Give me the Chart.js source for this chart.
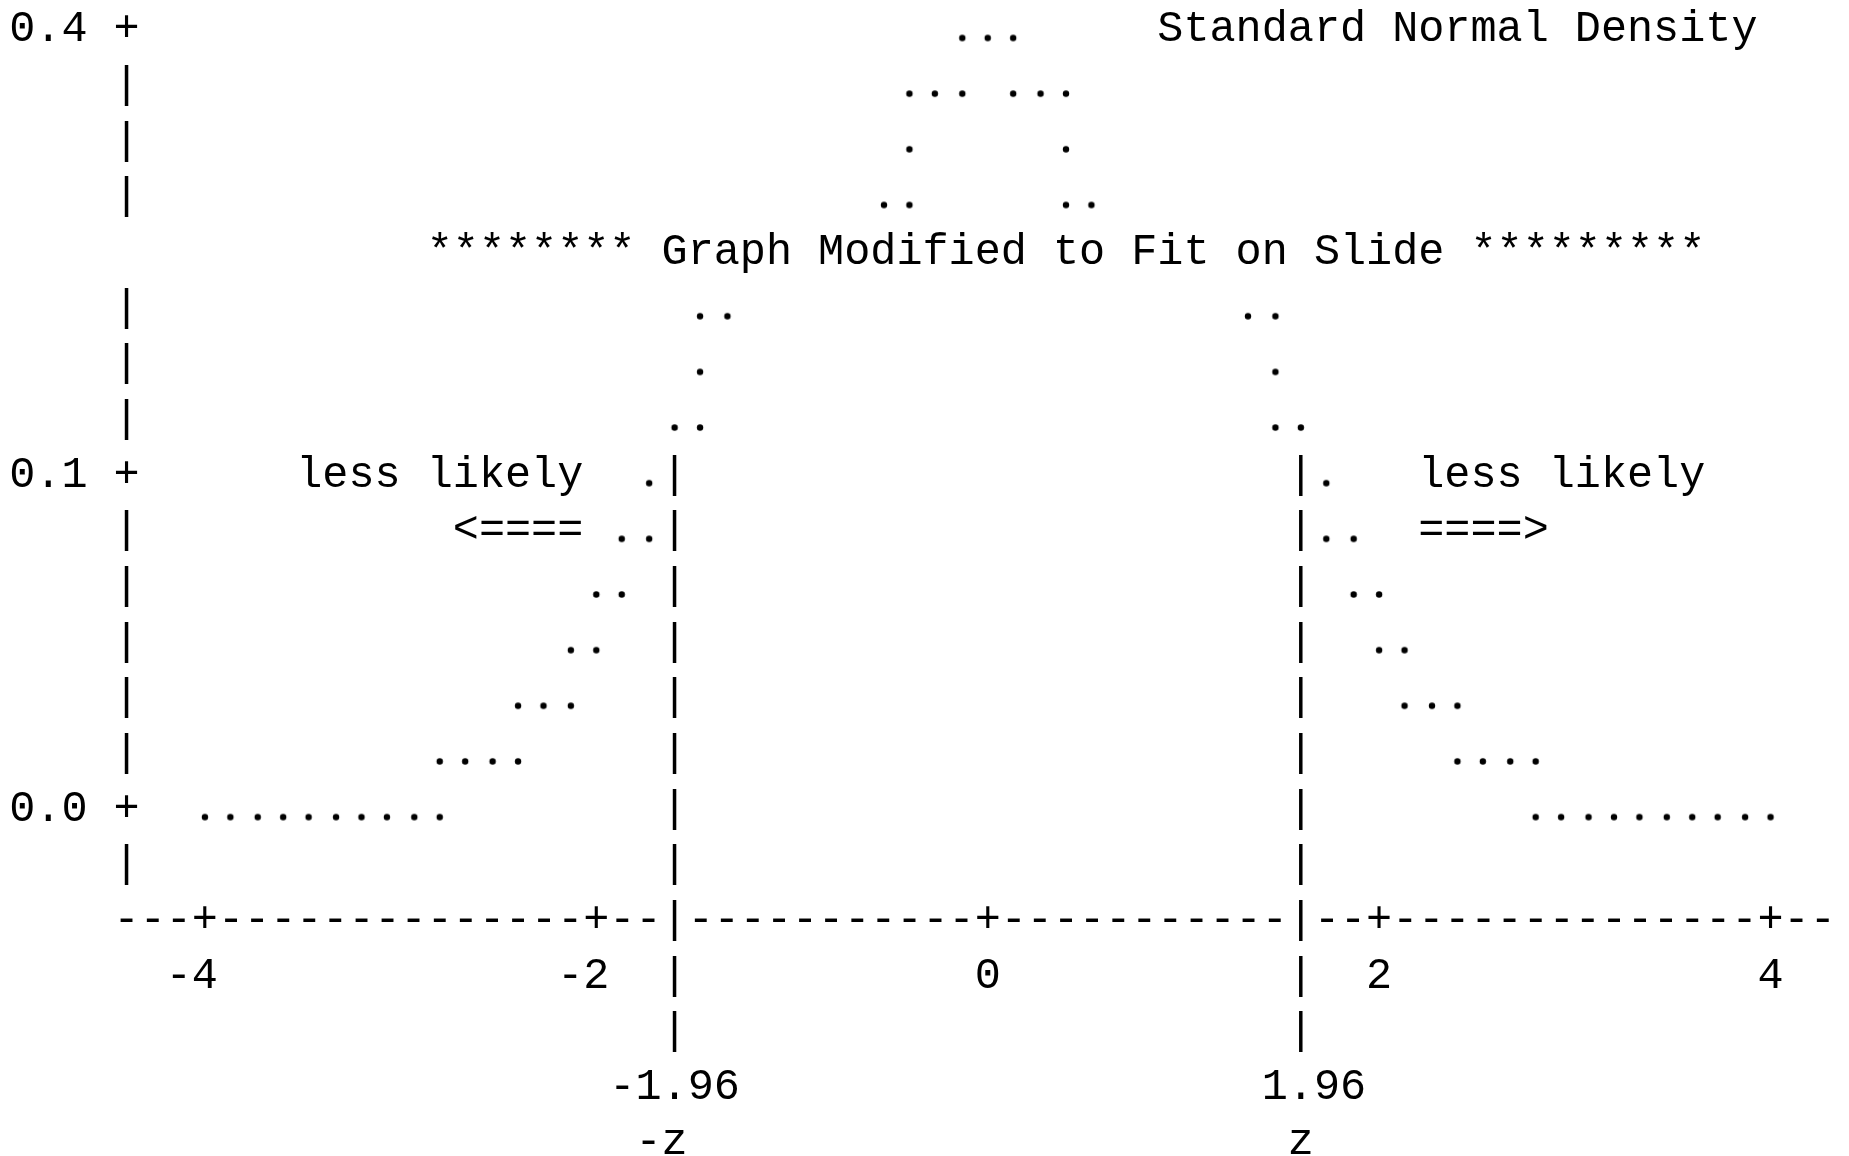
<!DOCTYPE html>
<html>
<head>
<meta charset="utf-8">
<title>Standard Normal Density</title>
<script src="https://cdn.jsdelivr.net/npm/chart.js@4.4.1/dist/chart.umd.min.js"></script>
<style>
  html, body { margin: 0; padding: 0; background: #fff; }
  #wrap { width: 1849px; height: 1156px; position: relative; }
</style>
</head>
<body>
<div id="wrap"><canvas id="chart"></canvas></div>
<script>
// x axis ticks (z units)
const xTicks = [-4, -2, 0, 2, 4];
const xTickLabels = ['-4', '-2', '0', '2', '4'];

// y axis: text line of the plot and the density printed on it
const yTickRows = [0, 8, 14];
const yTickLabels = ['0.4', '0.1', '0.0'];

// critical values, at the place the plot drew them
const critZ = [-1.6, 1.6];
const critLabels = ['-1.96', '1.96'];
const critNames = ['-z', 'z'];

// dots of the density curve: one list of z positions per text line
const curveRows = [0, 1, 2, 3, 5, 6, 7, 8, 9, 10, 11, 12, 13, 14];
const curveZ = [
  [-0.13, 0, 0.13],
  [-0.4, -0.27, -0.13, 0.13, 0.27, 0.4],
  [-0.4, 0.4],
  [-0.53, -0.4, 0.4, 0.53],
  [-1.47, -1.33, 1.33, 1.47],
  [-1.47, 1.47],
  [-1.6, -1.47, 1.47, 1.6],
  [-1.73, 1.73],
  [-1.87, -1.73, 1.73, 1.87],
  [-2.0, -1.87, 1.87, 2.0],
  [-2.13, -2.0, 2.0, 2.13],
  [-2.4, -2.27, -2.13, 2.13, 2.27, 2.4],
  [-2.8, -2.67, -2.53, -2.4, 2.4, 2.53, 2.67, 2.8],
  [-4.0, -3.87, -3.73, -3.6, -3.47, -3.33, -3.2, -3.07, -2.93, -2.8,
   2.8, 2.93, 3.07, 3.2, 3.33, 3.47, 3.6, 3.73, 3.87, 4.0]
];

// text grid: one character = 2/15 of a z unit, one line = 1 row
const STEP = 2 / 15;
const FONT = '43.5px "Liberation Mono", "DejaVu Sans Mono", monospace';
const BASE = 14;     // baseline below the row centre
const AXIS_Z = -4.4; // column of the y axis
const AXIS_END = 4.27;

// the "." used for the curve
const dot = document.createElement('canvas');
dot.width = 14;
dot.height = 44;
(function () {
  const c = dot.getContext('2d');
  c.fillStyle = '#000';
  c.beginPath();
  c.arc(7, 22 + BASE - 3.5, 3.2, 0, Math.PI * 2);
  c.fill();
})();

const points = [];
curveRows.forEach((r, i) => {
  curveZ[i].forEach(z => points.push({ x: z, y: r }));
});

const asciiPlot = {
  id: 'asciiPlot',
  afterDatasetsDraw(chart) {
    const { ctx, scales: { x, y } } = chart;
    const cw = x.getPixelForValue(STEP) - x.getPixelForValue(0);

    ctx.save();
    ctx.font = FONT;
    ctx.fillStyle = '#000';
    ctx.textAlign = 'center';
    ctx.textBaseline = 'alphabetic';

    const put = (str, z, row) => {
      const px = x.getPixelForValue(z);
      const py = y.getPixelForValue(row) + BASE;
      for (let i = 0; i < str.length; i++) {
        if (str[i] !== ' ') ctx.fillText(str[i], px + i * cw, py);
      }
    };

    // y axis
    for (let r = 0; r <= 15; r++) {
      if (r === 4) continue; // the note line covers it
      put(yTickRows.includes(r) ? '+' : '|', AXIS_Z, r);
    }
    yTickRows.forEach((r, i) => put(yTickLabels[i], AXIS_Z - 4 * STEP, r));

    // x axis line
    const n = Math.round((AXIS_END - AXIS_Z) / STEP);
    for (let k = 0; k <= n; k++) {
      const z = AXIS_Z + k * STEP;
      let ch = '-';
      if (xTicks.some(t => Math.abs(t - z) < STEP / 2)) ch = '+';
      if (critZ.some(c => Math.abs(c - z) < STEP / 2)) ch = '|';
      put(ch, z, 16);
    }
    xTicks.forEach((t, i) => {
      const lab = xTickLabels[i];
      put(lab, t - (lab.length - 1) * STEP, 17);
    });

    // critical value lines and labels
    critZ.forEach((c, i) => {
      for (let r = 8; r <= 18; r++) {
        if (r !== 16) put('|', c, r);
      }
      const lab = critLabels[i];
      put(lab, c - lab.indexOf('.') * STEP, 19);
      const nm = critNames[i];
      put(nm, c - (nm.length - 1) * STEP, 20);
    });

    // notes
    put('Standard Normal Density', 7 * STEP, 0);
    put('******** Graph Modified to Fit on Slide *********', -21 * STEP, 4);
    put('less likely', -26 * STEP, 8);
    put('<====', -20 * STEP, 9);
    put('less likely', 17 * STEP, 8);
    put('====>', 17 * STEP, 9);

    ctx.restore();
  }
};

new Chart(document.getElementById('chart'), {
  type: 'scatter',
  data: {
    datasets: [{
      label: 'Standard Normal Density',
      data: points,
      pointStyle: dot,
      pointRadius: 3,
      clip: false
    }]
  },
  options: {
    responsive: true,
    maintainAspectRatio: false,
    animation: false,
    layout: { padding: 0, autoPadding: false },
    plugins: {
      legend: { display: false },
      tooltip: { enabled: false }
    },
    scales: {
      x: { type: 'linear', min: -5.047, max: 4.401, display: false },
      y: { type: 'linear', reverse: true, min: -0.494, max: 20.279, display: false }
    }
  },
  plugins: [asciiPlot]
});
</script>
</body>
</html>
